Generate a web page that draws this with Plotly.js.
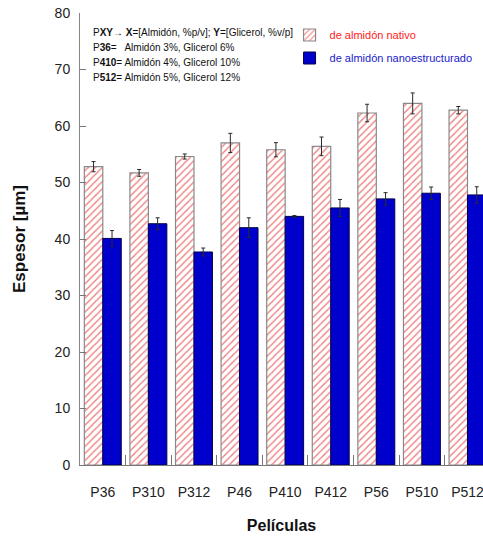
<!DOCTYPE html>
<html>
<head>
<meta charset="utf-8">
<script src="https://cdn.plot.ly/plotly-3.0.1.min.js"></script>
<style>html,body{margin:0;padding:0;background:#fff;overflow:hidden}</style>
</head>
<body>
<div id="chart" style="width:483px;height:537px"></div>
<script>
const categories = ['P36','P310','P312','P46','P410','P412','P56','P510','P512'];
const nativo = [52.8, 51.7, 54.6, 57.0, 55.8, 56.4, 62.3, 64.0, 62.8];
const nativoErr = [0.9, 0.6, 0.45, 1.7, 1.25, 1.65, 1.55, 1.85, 0.65];
const nano = [40.1, 42.7, 37.7, 42.0, 44.0, 45.5, 47.1, 48.1, 47.8];
const nanoErr = [1.4, 1.05, 0.7, 1.75, 0.15, 1.5, 1.1, 1.1, 1.45];
const nameNativo = 'de almidón nativo';
const nameNano = 'de almidón nanoestructurado';
const noteLines = [
  'P<b>XY</b>\u2192 <b>X</b>=[Almidón, %p/v]; <b>Y</b>=[Glicerol, %v/p]',
  'P<b>36</b>=\u00a0\u00a0 Almidón 3%, Glicerol 6%',
  'P<b>410</b>= Almidón 4%, Glicerol 10%',
  'P<b>512</b>= Almidón 5%, Glicerol 12%'
];

const FONT = 'Liberation Sans, Arial, sans-serif';

const traces = [
  {
    type: 'bar', name: nameNativo, x: categories, y: nativo,
    legend: 'legend',
    marker: {
      color: '#ffffff',
      pattern: {shape: '/', fgcolor: '#f08080', bgcolor: '#ffffff', size: 5, solidity: 0.28},
      line: {color: '#8a8a8a', width: 1.2}
    },
    error_y: {type: 'data', array: nativoErr, visible: true, color: '#2a2a2a', thickness: 1, width: 2}
  },
  {
    type: 'bar', name: nameNano, x: categories, y: nano,
    legend: 'legend2',
    marker: {color: '#0000cc', line: {color: '#00004a', width: 1}},
    error_y: {type: 'data', array: nanoErr, visible: true, color: '#2a2a2a', thickness: 1, width: 2}
  }
];

const plotTop = 13, plotBottom = 465, plotH = plotBottom - plotTop;
const yPaper = py => (plotBottom - py) / plotH;
const noteY = [33, 48, 63, 78];

const annotations = noteLines.map((t, i) => ({
  xref: 'paper', yref: 'paper', x: 0.027, y: yPaper(noteY[i]),
  xanchor: 'left', yanchor: 'middle', showarrow: false, text: t,
  font: {family: FONT, size: 10, color: '#111'}
}));

const layout = {
  width: 483, height: 537,
  margin: {l: 80, r: 0, t: 13, b: 72},
  paper_bgcolor: '#fff', plot_bgcolor: '#fff',
  font: {family: FONT, size: 14, color: '#222'},
  barmode: 'group', bargap: 0.19, bargroupgap: 0,
  showlegend: true,
  legend: {x: 0.52, y: yPaper(35), yanchor: 'middle', xanchor: 'left', bgcolor: 'rgba(0,0,0,0)',
           font: {family: FONT, size: 11, color: '#ff1a1a'}},
  legend2: {x: 0.52, y: yPaper(58), yanchor: 'middle', xanchor: 'left', bgcolor: 'rgba(0,0,0,0)',
            font: {family: FONT, size: 11, color: '#1a1acc'}},
  xaxis: {
    type: 'category', range: [-0.5, 8.34], fixedrange: true,
    showline: true, linecolor: '#777', linewidth: 1,
    ticks: 'inside', tickson: 'boundaries', ticklen: 10, tickcolor: '#777',
    showgrid: false, ticklabelstandoff: 14,
    tickfont: {family: FONT, size: 14, color: '#222'},
    title: {text: '<b>Películas</b>', font: {family: FONT, size: 16, color: '#111'}, standoff: 21}
  },
  xaxis2: {
    overlaying: 'x', side: 'top', range: [-0.5, 8.34], tickmode: 'linear', tick0: -0.5, dtick: 0.5,
    ticks: 'inside', ticklen: 7, tickcolor: '#777', showticklabels: false,
    showline: true, linecolor: '#888', showgrid: false, zeroline: false
  },
  yaxis: {
    range: [0, 80], dtick: 10, fixedrange: true,
    showline: true, linecolor: '#888', linewidth: 1,
    ticks: 'inside', ticklen: 6, tickcolor: '#777',
    showgrid: false, zeroline: false, ticklabelstandoff: 6,
    tickfont: {family: FONT, size: 14, color: '#222'},
    title: {text: '<b>Espesor [µm]</b>', font: {family: FONT, size: 17, color: '#111'}, standoff: 24}
  },
  annotations: annotations
};

Plotly.newPlot('chart', traces, layout, {displayModeBar: false, staticPlot: true});
</script>
</body>
</html>
